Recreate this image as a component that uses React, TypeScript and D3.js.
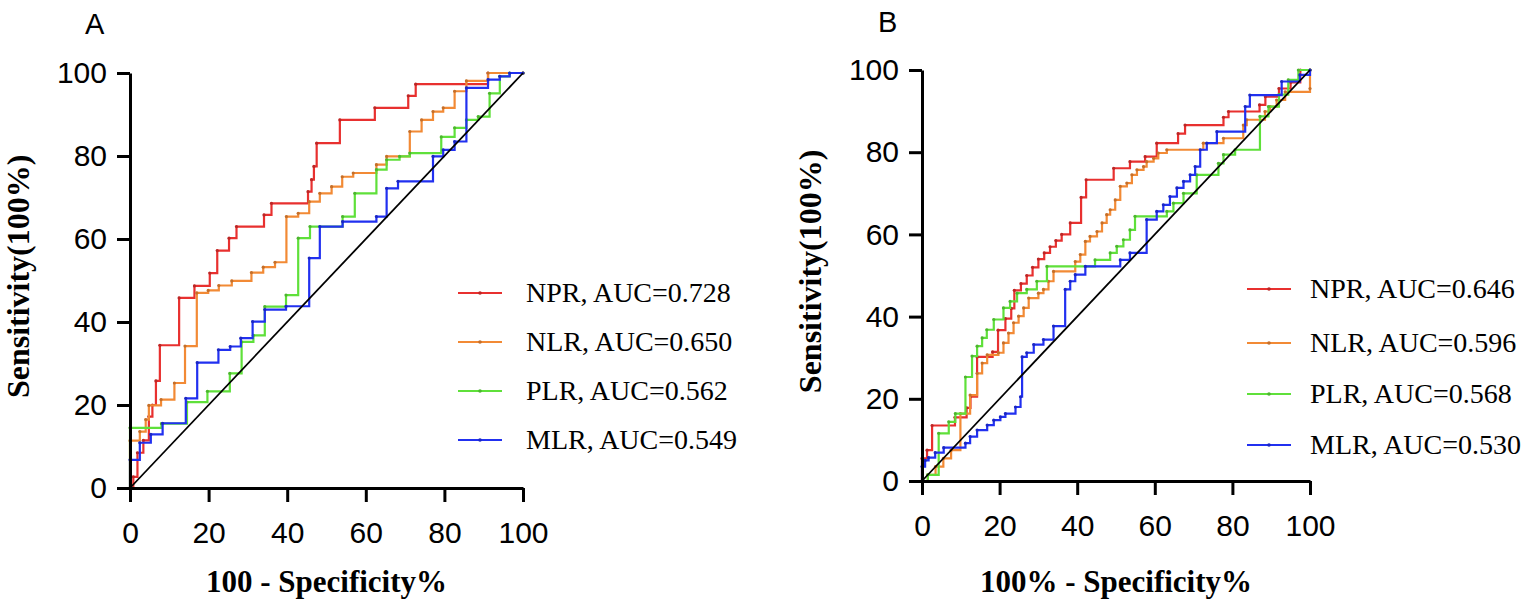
import { useEffect, useRef } from 'react';
import * as d3 from 'd3';

type Pt = [number, number];

// ROC step curves: [100 - specificity, sensitivity]
const seriesNames = ['NPR', 'NLR', 'PLR', 'MLR'];
const seriesColors = ['#e8302f', '#f28a35', '#5fe03a', '#2130f0'];
const aucA = ['0.728', '0.650', '0.562', '0.549'];
const aucB = ['0.646', '0.596', '0.568', '0.530'];
const axisTicks = [0, 20, 40, 60, 80, 100];

const nprA: Pt[] = [[0, 0], [0.85, 2.7], [1.9, 8.5], [3.4, 11.5], [4.8, 17.2], [5.7, 20], [6.6, 25.8], [7.6, 34.4], [12.5, 45.8], [16.4, 48.7], [20.3, 51.8], [22.2, 57.2], [25.2, 60.2], [27.1, 63], [34.1, 65.8], [36, 68.6], [45.3, 71.4], [46.2, 74.3], [46.8, 77.5], [47.5, 83.1], [53.4, 88.7], [62.3, 91.6], [70.8, 94.5], [72.7, 97.3], [91.1, 100], [100, 100]];
const nlrA: Pt[] = [[0, 0], [0, 11.4], [2.5, 13.6], [4.0, 16.5], [4.8, 19.9], [7.9, 21.3], [11.3, 25.3], [14.0, 34.2], [17.0, 47], [19.9, 47.6], [22.6, 48.8], [25.9, 49.9], [30.9, 51.9], [33.9, 53.2], [36.9, 54.4], [39.8, 65.4], [42.8, 66.2], [45.6, 69], [48.3, 71], [51.3, 72.6], [54, 75], [56.8, 75.9], [62.7, 77.9], [65.3, 79.9], [71.2, 85.9], [74.2, 88.7], [77.1, 90.7], [79.7, 91.6], [82.6, 95.6], [85.6, 98.1], [91.1, 100], [100, 100]];
const plrA: Pt[] = [[0, 0], [0, 14.5], [8, 15.5], [14.5, 20.7], [19.7, 23.3], [25.4, 27.6], [28.4, 35.2], [31.4, 36.8], [34.3, 43.7], [39.7, 46.5], [42.8, 60.2], [45.8, 63], [54.1, 65.4], [57.2, 71], [62.7, 76.7], [65.3, 79.1], [68.6, 79.9], [71.2, 80.7], [79.2, 84.6], [82.6, 86.8], [85.6, 88.7], [88.6, 89.5], [91.5, 95.1], [94.1, 99.2], [96.6, 100], [100, 100]];
const mlrA: Pt[] = [[0, 0], [0, 6.8], [2.5, 10.9], [5.3, 12.9], [8.3, 15.6], [14.2, 21.6], [17.1, 30.2], [22.5, 33.3], [25.5, 34.1], [28.2, 36.1], [31.2, 40.1], [34.3, 43], [39.7, 43.8], [45.6, 55.4], [48.3, 63], [54.1, 64.2], [62.7, 65.4], [65.3, 72.2], [68.2, 73.9], [77.1, 79.9], [79.7, 81.5], [82.6, 83.5], [85.6, 96.4], [91.1, 98.4], [94.1, 99.2], [96.6, 100], [100, 100]];

const nprB: Pt[] = [[0, 0], [0, 5.5], [1.3, 7.5], [2.6, 13.5], [8.5, 15.5], [11.5, 17.8], [12.5, 20.5], [14.2, 30.2], [18.2, 31.4], [19.6, 36.7], [21.5, 39.5], [23, 42], [23.8, 46.4], [25.5, 48], [27, 50], [28.5, 52], [30, 54], [31.5, 55.5], [33, 57], [34.5, 58.5], [36, 60], [38.2, 62.8], [41, 69], [42.3, 73.3], [49.4, 76.1], [53.6, 77.7], [57.5, 78.9], [60.5, 82.2], [66, 84.5], [67.8, 86.6], [77.7, 88.5], [79, 89.9], [87, 91.5], [88.5, 93.5], [92, 95.5], [95, 97], [97.5, 100], [100, 100]];
const nlrB: Pt[] = [[0, 0], [1.5, 1.5], [3.5, 3.5], [5.5, 5.5], [7.5, 7.5], [9.9, 16.4], [12.4, 20.9], [14.2, 26.2], [15.5, 28.7], [16.8, 30.7], [19.7, 31.2], [21, 33.6], [22.3, 36], [23.6, 38.5], [24.9, 40.1], [26.2, 42.1], [27.5, 44.5], [30, 45.7], [31.3, 46.6], [32.6, 48.6], [33.9, 51], [39.5, 53.4], [40.8, 55.1], [42.1, 58.3], [43.3, 59.5], [45.1, 60.7], [46.4, 62.8], [47.6, 64.8], [48.5, 66], [49.8, 68.4], [51.1, 71.7], [52.8, 72.5], [54.1, 74.5], [55.4, 75.7], [57.1, 76.5], [57.9, 77.7], [59.7, 78.5], [60.9, 79.8], [63.1, 80.6], [72.5, 82.2], [77.7, 83.4], [82.8, 86.6], [83.7, 87.9], [88.4, 89.9], [89.7, 91.1], [91.4, 92.7], [93.6, 94.7], [100, 95.5], [100, 100]];
const plrB: Pt[] = [[0, 0], [1.5, 1.5], [4.3, 11.6], [6.9, 14.4], [8.6, 16.4], [11.2, 25.3], [12.9, 30.4], [14.2, 32.8], [15.5, 34.8], [16.7, 36.8], [18.5, 39.3], [21, 42.1], [22.7, 43.7], [24.5, 45.7], [27, 46.6], [29.6, 48.6], [32.2, 52.2], [44.6, 53.8], [48.5, 55.5], [50.2, 57.1], [51.9, 58.7], [53.6, 61.1], [54.9, 64.4], [63.1, 65.6], [64.8, 67.6], [67.4, 70], [70.8, 74.5], [76.4, 77.3], [77.7, 79.4], [80.7, 80.6], [87.1, 88.7], [89.3, 91.1], [92, 94], [94.4, 97.6], [97, 100], [100, 100]];
const mlrB: Pt[] = [[0, 0], [0, 3.5], [0.8, 5], [1.7, 5.7], [3.4, 6.9], [5.6, 8.1], [11.2, 9.2], [12.4, 10.8], [14.2, 12.4], [16.8, 13.6], [18.5, 14.8], [20.2, 15.6], [21.5, 16.4], [24.1, 18], [25.4, 20.5], [25.8, 30.2], [27, 31.2], [28.8, 33.2], [31.3, 34.4], [33.9, 37.7], [36.9, 46.6], [38.2, 48.6], [39.5, 50.2], [42.1, 52.2], [51.1, 53.8], [53.6, 55.5], [57.9, 63.6], [60.5, 65.6], [62.2, 67.2], [63.9, 69.2], [65.7, 71.3], [67.4, 72.9], [69.1, 74.5], [70.4, 76.5], [71.7, 80.6], [73.4, 82.2], [76, 85], [83.3, 91.1], [84.5, 93.9], [92.7, 97.2], [97.4, 98.8], [100, 100]];

const curvesA = [nprA, nlrA, plrA, mlrA];
const curvesB = [nprB, nlrB, plrB, mlrB];

interface PanelCfg {
  letter: string;
  letterX: number;
  letterY: number;
  left: number;
  top: number;
  w: number;
  h: number;
  xTitle: string;
  curves: Pt[][];
  aucs: string[];
  legendLineX: number;
  legendTextX: number;
  legendRows: number[];
}

const panels: PanelCfg[] = [
  {
    letter: 'A', letterX: 85, letterY: 34, left: 130, top: 73, w: 393, h: 415,
    xTitle: '100 - Specificity%', curves: curvesA, aucs: aucA,
    legendLineX: 458, legendTextX: 526, legendRows: [293, 342, 391, 440],
  },
  {
    letter: 'B', letterX: 878, letterY: 32, left: 922, top: 70, w: 388, h: 411,
    xTitle: '100% - Specificity%', curves: curvesB, aucs: aucB,
    legendLineX: 1247, legendTextX: 1310, legendRows: [289, 343, 394, 445],
  },
];

const SANS = 'Arial, "Liberation Sans", sans-serif';
const SERIF = '"Times New Roman", "Liberation Serif", serif';

function drawPanel(svg: d3.Selection<SVGSVGElement, unknown, null, undefined>, cfg: PanelCfg) {
  const g = svg.append('g');
  const x = d3.scaleLinear().domain([0, 100]).range([cfg.left, cfg.left + cfg.w]);
  const y = d3.scaleLinear().domain([0, 100]).range([cfg.top + cfg.h, cfg.top]);

  const line = d3.line<Pt>().x(d => x(d[0])).y(d => y(d[1])).curve(d3.curveStepAfter);

  cfg.curves.forEach((pts, i) => {
    g.append('path')
      .attr('d', line(pts))
      .attr('fill', 'none')
      .attr('stroke', seriesColors[i])
      .attr('stroke-width', 2.2);
    g.selectAll(null)
      .data(pts)
      .enter().append('circle')
      .attr('cx', d => x(d[0]))
      .attr('cy', d => y(d[1]))
      .attr('r', 1.6)
      .attr('fill', d3.color(seriesColors[i])!.darker(0.6).toString());
  });

  // reference diagonal
  g.append('line')
    .attr('x1', x(0)).attr('y1', y(0))
    .attr('x2', x(100)).attr('y2', y(100))
    .attr('stroke', '#000')
    .attr('stroke-width', 1.8);

  const yAxis = g.append('g')
    .attr('transform', `translate(${cfg.left},0)`)
    .call(d3.axisLeft(y).tickValues(axisTicks).tickSize(13).tickSizeOuter(0).tickPadding(10));
  const xAxis = g.append('g')
    .attr('transform', `translate(0,${cfg.top + cfg.h})`)
    .call(d3.axisBottom(x).tickValues(axisTicks).tickSize(14).tickSizeOuter(0).tickPadding(20));

  [yAxis, xAxis].forEach(ax => {
    ax.select('.domain').attr('stroke', '#000').attr('stroke-width', 3);
    ax.selectAll('.tick line').attr('stroke', '#000').attr('stroke-width', 3);
    ax.selectAll('.tick text')
      .attr('fill', '#000')
      .style('font-family', SANS)
      .style('font-size', '30px');
  });

  g.append('text')
    .attr('x', cfg.letterX)
    .attr('y', cfg.letterY)
    .style('font-family', SANS)
    .style('font-size', '29px')
    .text(cfg.letter);

  g.append('text')
    .attr('x', cfg.left + cfg.w / 2)
    .attr('y', 592)
    .attr('text-anchor', 'middle')
    .style('font-family', SERIF)
    .style('font-weight', 'bold')
    .style('font-size', '31px')
    .text(cfg.xTitle);

  g.append('text')
    .attr('transform', `translate(${cfg.left - 101},${cfg.top + cfg.h * 0.49}) rotate(-90)`)
    .attr('text-anchor', 'middle')
    .style('font-family', SERIF)
    .style('font-weight', 'bold')
    .style('font-size', '32px')
    .text('Sensitivity(100%)');

  const legend = g.selectAll('.legend-item')
    .data(seriesNames)
    .enter().append('g')
    .attr('class', 'legend-item')
    .attr('transform', (_, i) => `translate(0,${cfg.legendRows[i]})`);

  legend.append('line')
    .attr('x1', cfg.legendLineX)
    .attr('x2', cfg.legendLineX + 44)
    .attr('stroke', (_, i) => seriesColors[i])
    .attr('stroke-width', 2.2);
  legend.append('circle')
    .attr('cx', cfg.legendLineX + 22)
    .attr('r', 1.8)
    .attr('fill', (_, i) => d3.color(seriesColors[i])!.darker(0.6).toString());
  legend.append('text')
    .attr('x', cfg.legendTextX)
    .attr('dy', '0.33em')
    .style('font-family', SERIF)
    .style('font-size', '28px')
    .text((d, i) => `${d}, AUC=${cfg.aucs[i]}`);
}

export default function App() {
  const svgRef = useRef<SVGSVGElement>(null);

  useEffect(() => {
    if (!svgRef.current) return;
    const svg = d3.select(svgRef.current);
    svg.selectAll('*').remove();
    panels.forEach(p => drawPanel(svg, p));
  }, []);

  return (
    <div style={{ position: 'absolute', left: 0, top: 0, background: '#fff' }}>
      <svg ref={svgRef} width={1535} height={602} style={{ display: 'block' }} />
    </div>
  );
}
